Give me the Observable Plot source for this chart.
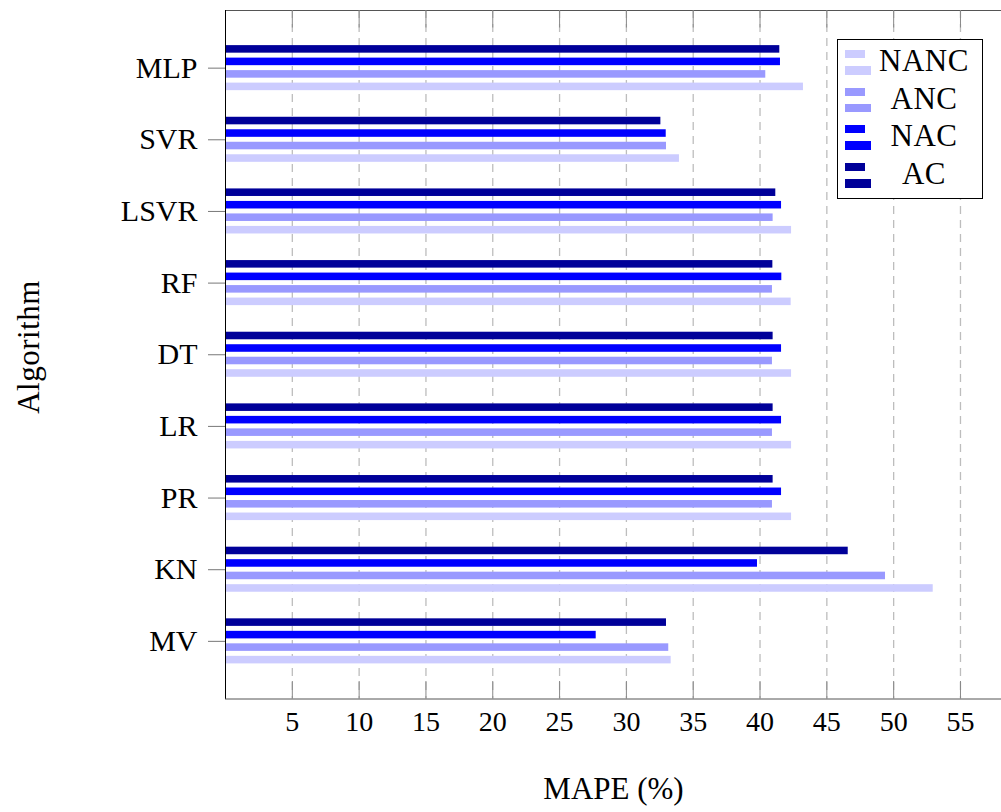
<!DOCTYPE html>
<html>
<head>
<meta charset="utf-8">
<script src="https://cdn.jsdelivr.net/npm/d3@7"></script>
<script src="https://cdn.jsdelivr.net/npm/@observablehq/plot@0.6"></script>
<style>
  html, body { margin: 0; padding: 0; background: #fff; }
  #wrap { position: relative; width: 1001px; height: 812px; overflow: hidden; font-family: "Liberation Serif", "DejaVu Serif", serif; }
  #legend { position: absolute; left: 837px; top: 39px; width: 144px; height: 158px; border: 1px solid #000; background: #fff; box-sizing: content-box; }
  .row { position: absolute; left: 0; width: 144px; height: 30px; }
  .ic1, .ic2 { position: absolute; left: 7px; }
  .ic1 { top: 0px; width: 20px; height: 8px; }
  .ic2 { top: 16px; width: 26px; height: 8.5px; }
  .lt { position: absolute; left: 28px; right: 0; text-align: center; top: -7px; font-size: 31px; line-height: 36px; color: #000; letter-spacing: 0.5px; }
  #ylab { position: absolute; left: 28px; top: 347px; width: 0; height: 0; }
  #ylab span { position: absolute; left: 0; top: 0; transform: translate(-50%, -50%) rotate(-90deg); white-space: nowrap; font-size: 31px; color: #000; letter-spacing: 0.5px; line-height: 1; }
</style>
</head>
<body>
<div id="wrap"><div id="legend"></div><div id="ylab"><span></span></div></div>
<script>
const algorithms = ["MLP", "SVR", "LSVR", "RF", "DT", "LR", "PR", "KN", "MV"];
const seriesNames = ["AC", "NAC", "ANC", "NANC"];
const seriesColors = ["#000099", "#0000ff", "#9999ff", "#ccccff"];
const legendOrder = ["NANC", "ANC", "NAC", "AC"];
const AC   = [41.48, 32.58, 41.18, 40.96, 40.98, 40.98, 40.98, 46.60, 33.00];
const NAC  = [41.53, 32.98, 41.61, 41.63, 41.61, 41.61, 41.61, 39.81, 27.74];
const ANC  = [40.43, 33.00, 40.98, 40.93, 40.93, 40.93, 40.93, 49.39, 33.17];
const NANC = [43.25, 33.97, 42.36, 42.33, 42.36, 42.36, 42.36, 52.96, 33.35];
const xTicks = [5, 10, 15, 20, 25, 30, 35, 40, 45, 50, 55];
const xLabel = "MAPE (%)";
const yLabel = "Algorithm";

const seriesValues = {AC, NAC, ANC, NANC};
const rows = [];
seriesNames.forEach(s => algorithms.forEach((a, i) => rows.push({algorithm: a, series: s, value: seriesValues[s][i]})));

// inset positions for each series inside a category band (step ~71.65px)
const insets = {
  AC:   {insetTop: 13.3, insetBottom: 50.8},
  NAC:  {insetTop: 25.8, insetBottom: 38.3},
  ANC:  {insetTop: 38.3, insetBottom: 25.8},
  NANC: {insetTop: 50.8, insetBottom: 13.3}
};

const W = 1001, H = 812;
const chart = Plot.plot({
  width: W,
  height: H,
  marginLeft: 225,
  marginRight: 0,
  marginTop: 10,
  marginBottom: 113.5,
  style: {fontFamily: "'Liberation Serif', 'DejaVu Serif', serif", background: "#fff", color: "#000"},
  x: {domain: [0, 58.07], label: null},
  y: {type: "band", domain: algorithms, paddingInner: 0, paddingOuter: 0.3045, align: 0.5, round: false, label: null},
  marks: [
    Plot.gridX(xTicks, {stroke: "#bdbdbd", strokeOpacity: 1, strokeWidth: 1.3, strokeDasharray: "8,6"}),
    ...seriesNames.map((s, k) => Plot.barX(rows.filter(r => r.series === s), {
      x: "value", y: "algorithm", fill: seriesColors[k], ...insets[s]
    })),
    Plot.frame({stroke: "#555", insetRight: -6}),
    Plot.ruleX(xTicks, {stroke: "#888", insetTop: 671}),
    Plot.ruleX(xTicks, {stroke: "#888", insetBottom: 671}),
    Plot.ruleX([0], {stroke: "#000", strokeWidth: 1}),
    Plot.axisX({ticks: xTicks, tickSize: 0, tickPadding: 12, fontSize: 28, label: null}),
    Plot.axisY({tickSize: 17, tickPadding: 11, fontSize: 30, stroke: "#777", fill: "#000", label: null, style: {letterSpacing: "1px"}}),
    Plot.text([xLabel], {frameAnchor: "bottom", dy: 100, fontSize: 31, fill: "#000"})
  ]
});
document.getElementById("wrap").prepend(chart);
document.querySelector("#ylab span").textContent = yLabel;

const legend = document.getElementById("legend");
legendOrder.forEach((name, i) => {
  const color = seriesColors[seriesNames.indexOf(name)];
  const row = document.createElement("div");
  row.className = "row";
  row.style.top = (10 + i * 37.7) + "px";
  row.innerHTML = `<div class="ic1" style="background:${color}"></div><div class="ic2" style="background:${color}"></div><div class="lt">${name}</div>`;
  legend.appendChild(row);
});
</script>
</body>
</html>
